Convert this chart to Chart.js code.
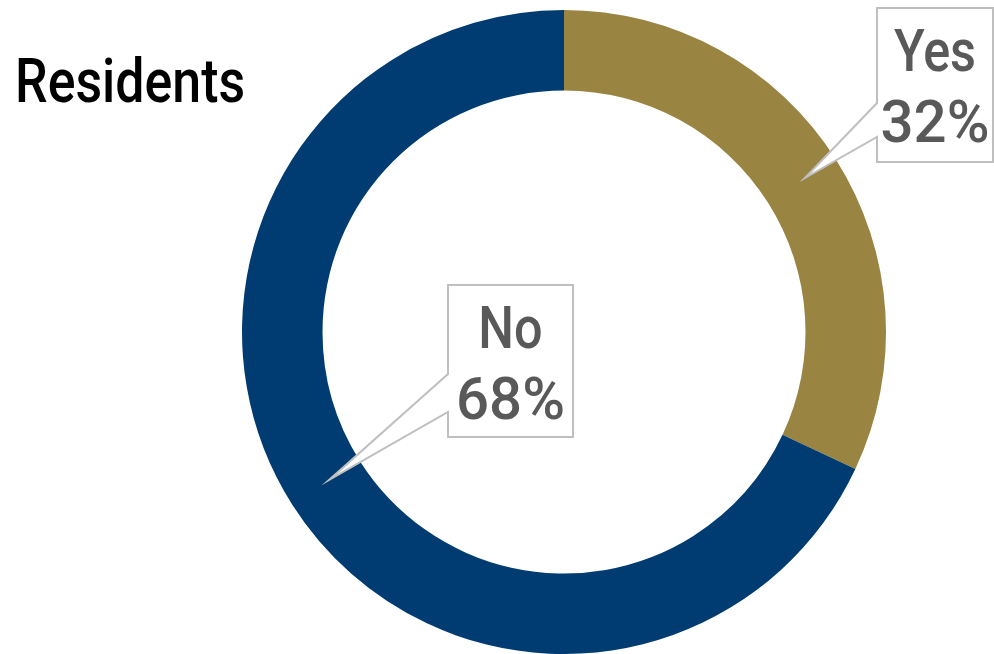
<!DOCTYPE html>
<html>
<head>
<meta charset="utf-8">
<script src="https://cdn.jsdelivr.net/npm/chart.js@4/dist/chart.umd.min.js"></script>
<style>
  html, body { margin: 0; padding: 0; background: #ffffff; }
  #wrap { position: relative; width: 994px; height: 654px; }
</style>
</head>
<body>
<div id="wrap"><canvas id="c" width="994" height="654"></canvas></div>
<script>
// Survey answers
const categories = ['Yes', 'No'];
const shares = [32, 68];
const sliceColors = ['#9A8442', '#003B71'];
const chartTitle = 'Residents';

// Callout boxes: box rectangle and the span of its left edge the pointer leaves from
const callouts = [
  { x: 877, y: 8, w: 116, h: 154, baseTop: 103, baseBottom: 137 },
  { x: 448, y: 285, w: 125, h: 152, baseTop: 374, baseBottom: 412 }
];

const FONT = 'Roboto, "Liberation Sans", sans-serif';

// draws text squeezed horizontally for a condensed look
function narrowText(ctx, text, x, y, align, squeeze) {
  ctx.save();
  ctx.translate(x, y);
  ctx.scale(squeeze, 1);
  ctx.textAlign = align;
  ctx.textBaseline = 'alphabetic';
  ctx.fillText(text, 0, 0);
  ctx.restore();
}

const titlePlugin = {
  id: 'sideTitle',
  afterDraw(chart) {
    const ctx = chart.ctx;
    ctx.save();
    ctx.fillStyle = '#000000';
    ctx.font = '500 61px ' + FONT;
    narrowText(ctx, chartTitle, 15, 102, 'left', 0.85);
    ctx.restore();
  }
};

const calloutPlugin = {
  id: 'callouts',
  afterDatasetsDraw(chart) {
    const ctx = chart.ctx;
    const arcs = chart.getDatasetMeta(0).data;
    ctx.save();
    arcs.forEach((arc, i) => {
      const c = callouts[i];
      const tip = arc.tooltipPosition();
      // box with a pointer toward the slice
      ctx.beginPath();
      ctx.moveTo(c.x, c.y);
      ctx.lineTo(c.x + c.w, c.y);
      ctx.lineTo(c.x + c.w, c.y + c.h);
      ctx.lineTo(c.x, c.y + c.h);
      ctx.lineTo(c.x, c.baseBottom);
      ctx.lineTo(tip.x + 3, tip.y - 3);
      ctx.lineTo(c.x, c.baseTop);
      ctx.closePath();
      ctx.fillStyle = '#ffffff';
      ctx.fill();
      ctx.strokeStyle = '#BFBFBF';
      ctx.lineWidth = 2;
      ctx.lineJoin = 'miter';
      ctx.stroke();

      const cx = c.x + c.w / 2;
      ctx.fillStyle = '#595959';
      ctx.font = '500 60px ' + FONT;
      narrowText(ctx, categories[i], cx, c.y + 63, 'center', 0.84);
      narrowText(ctx, shares[i] + '%', cx, c.y + 134, 'center', 0.97);
    });
    ctx.restore();
  }
};

new Chart(document.getElementById('c'), {
  type: 'doughnut',
  data: {
    labels: categories,
    datasets: [{
      data: shares,
      backgroundColor: sliceColors,
      borderWidth: 0,
      hoverOffset: 0
    }]
  },
  options: {
    responsive: false,
    animation: false,
    cutout: '75%',
    layout: { padding: { left: 242, right: 108, top: 10, bottom: 0 } },
    plugins: {
      legend: { display: false },
      tooltip: { enabled: false },
      title: { display: false }
    }
  },
  plugins: [titlePlugin, calloutPlugin]
});
</script>
</body>
</html>
